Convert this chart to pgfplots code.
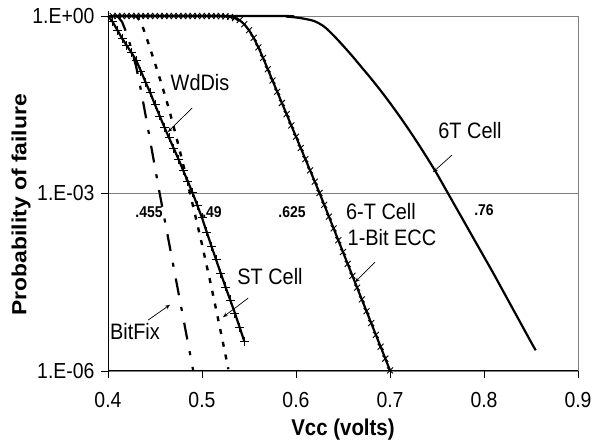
\documentclass[border=0pt]{standalone}
\usepackage{fontspec}
\setmainfont{Liberation Sans}
\usepackage{graphicx}
\usepackage{pgfplots}
\pgfplotsset{compat=1.18}
\usetikzlibrary{arrows.meta}

% text in the reference is a little taller than wide
\newcommand{\st}[1]{\scalebox{1}[1.12]{#1}}

% y values are log10 of the probability of failure
\pgfplotstableread{
v lg
0.40 0
0.58 0
0.59 -0.01
0.60 -0.025
0.61 -0.05
0.62 -0.09
0.63 -0.18
0.64 -0.33
0.65 -0.50
0.66 -0.68
0.67 -0.87
0.68 -1.06
0.69 -1.26
0.70 -1.47
0.71 -1.69
0.72 -1.92
0.73 -2.16
0.74 -2.41
0.75 -2.67
0.76 -2.95
0.77 -3.23
0.78 -3.51
0.79 -3.79
0.80 -4.07
0.81 -4.35
0.82 -4.64
0.83 -4.93
0.84 -5.22
0.85 -5.51
0.855 -5.65
}\sixT

\pgfplotstableread{
v lg
0.405 0
0.410 0
0.415 0
0.420 0
0.425 0
0.430 0
0.435 0
0.440 0
0.445 0
0.450 0
0.455 0
0.460 0
0.465 0
0.470 0
0.475 0
0.480 0
0.485 0
0.490 0
0.495 0
0.500 0
0.505 0
0.510 0
0.515 0
0.520 -0.002
0.525 -0.006
0.530 -0.015
0.535 -0.035
0.540 -0.07
0.545 -0.14
0.550 -0.24
0.555 -0.37
0.560 -0.53
0.565 -0.71
0.570 -0.90
0.575 -1.09
0.580 -1.28
0.585 -1.47
0.590 -1.66
0.595 -1.85
0.600 -2.04
0.605 -2.23
0.610 -2.42
0.615 -2.61
0.620 -2.80
0.625 -2.99
0.630 -3.19
0.635 -3.39
0.640 -3.59
0.645 -3.79
0.650 -3.99
0.655 -4.19
0.660 -4.39
0.665 -4.59
0.670 -4.79
0.675 -4.99
0.680 -5.19
0.685 -5.39
0.690 -5.59
0.695 -5.79
0.700 -5.99
}\ecc

\pgfplotstableread{
v lg
0.400 0
0.405 -0.10
0.410 -0.24
0.415 -0.38
0.420 -0.50
0.425 -0.62
0.430 -0.75
0.435 -0.93
0.440 -1.12
0.445 -1.30
0.450 -1.50
0.455 -1.69
0.460 -1.88
0.465 -2.06
0.470 -2.24
0.475 -2.42
0.480 -2.61
0.485 -2.80
0.490 -2.99
0.495 -3.20
0.500 -3.41
0.505 -3.65
0.510 -3.89
0.515 -4.12
0.520 -4.35
0.525 -4.58
0.530 -4.80
0.535 -5.02
0.540 -5.26
0.545 -5.50
}\wddis

\pgfplotstableread{
v lg
0.430 0
0.435 -0.10
0.440 -0.32
0.445 -0.56
0.450 -0.80
0.455 -1.05
0.460 -1.31
0.465 -1.58
0.470 -1.88
0.475 -2.19
0.480 -2.51
0.485 -2.84
0.490 -3.18
0.495 -3.52
0.500 -3.86
0.505 -4.22
0.510 -4.58
0.515 -4.96
0.520 -5.34
0.525 -5.73
0.528 -5.97
}\stcell

\pgfplotstableread{
v lg
0.410 0
0.415 -0.10
0.420 -0.30
0.425 -0.56
0.430 -0.86
0.435 -1.25
0.440 -1.68
0.445 -2.12
0.450 -2.56
0.455 -3.00
0.460 -3.42
0.465 -3.84
0.470 -4.26
0.475 -4.68
0.480 -5.10
0.485 -5.52
0.490 -5.94
0.4907 -6.0
}\bitfix

\begin{document}
\begin{tikzpicture}
\begin{axis}[
  scale only axis, width=470bp, height=355bp,
  xmin=0.4, xmax=0.9, ymin=-6, ymax=0,
  axis x line*=bottom, axis y line*=left,
  axis line style={black, line width=1bp},
  xtick={0.4,0.5,0.6,0.7,0.8,0.9},
  xticklabels={\st{0.4},\st{0.5},\st{0.6},\st{0.7},\st{0.8},\st{0.9}},
  ytick={-6,-3,0},
  yticklabels={\st{1.E-06},\st{1.E-03},\st{1.E+00}},
  tick align=outside, major tick length=7bp,
  tick style={black, line width=0.8bp},
  ymajorgrids, grid style={gray, line width=0.8bp},
  ticklabel style={font=\fontsize{19.5}{22}\selectfont},
  xticklabel style={yshift=-11bp},
  yticklabel style={xshift=-3bp},
  xlabel={\st{\textbf{Vcc (volts)}}},
  ylabel={\scalebox{1.12}[1]{\textbf{Probability of failure}}},
  label style={font=\fontsize{20.5}{24}\selectfont},
  xlabel style={at={(axis description cs:0.5,-0.166)}, anchor=center},
  ylabel style={at={(axis description cs:-0.185,0.468)}, anchor=center},
  clip=false,
]
\draw[gray, line width=0.8bp] (rel axis cs:0,1) -- (rel axis cs:1,1) -- (rel axis cs:1,0);
\coordinate (bl) at (rel axis cs:0,0);
\coordinate (tr) at (rel axis cs:1,1);

\addplot[black, line width=2.2bp, smooth] table[x=v, y=lg] {\sixT};
\addplot[black, line width=2.2bp, mark=x, mark size=4.2bp,
  mark options={line width=0.9bp}] table[x=v, y=lg] {\ecc};
\addplot[black, line width=2.2bp, mark=+, mark size=4.5bp,
  mark options={line width=0.9bp}] table[x=v, y=lg] {\wddis};
\addplot[black, line width=2.4bp, dash pattern=on 5bp off 8bp] table[x=v, y=lg] {\stcell};
\addplot[black, line width=2.2bp, dash pattern=on 17bp off 12bp on 4bp off 12bp] table[x=v, y=lg] {\bitfix};

\begin{scope}[font=\fontsize{20}{24}\selectfont]
\node at (axis cs:0.4979,-1.13) {\st{WdDis}};
\node at (axis cs:0.785,-1.94) {\st{6T Cell}};
\node at (axis cs:0.6904,-3.30) {\st{6-T Cell}};
\node at (axis cs:0.7021,-3.75) {\st{1-Bit ECC}};
\node at (axis cs:0.5723,-4.41) {\st{ST Cell}};
\node at (axis cs:0.4287,-5.34) {\st{BitFix}};
\end{scope}
\begin{scope}[font=\fontsize{14}{16}\selectfont\bfseries]
\node at (axis cs:0.4436,-3.31) {\st{.455}};
\node at (axis cs:0.5106,-3.31) {\st{.49}};
\node at (axis cs:0.5957,-3.31) {\st{.625}};
\node at (axis cs:0.8,-3.28) {\st{.76}};
\end{scope}
\begin{scope}[line width=0.7bp, -{Stealth[length=5bp, width=4bp]}]
\draw (axis cs:0.4894,-1.555) -- (axis cs:0.4638,-1.96);
\draw (axis cs:0.766,-2.35) -- (axis cs:0.7457,-2.64);
\draw (axis cs:0.684,-4.16) -- (axis cs:0.6628,-4.50);
\draw (axis cs:0.549,-4.77) -- (axis cs:0.5223,-5.09);
\draw (axis cs:0.4426,-5.14) -- (axis cs:0.466,-4.88);
\end{scope}
\end{axis}
\pgfresetboundingbox
\path[use as bounding box] ([xshift=-108bp, yshift=-75bp]bl) rectangle ([xshift=14bp, yshift=16bp]tr);
\end{tikzpicture}
\end{document}
